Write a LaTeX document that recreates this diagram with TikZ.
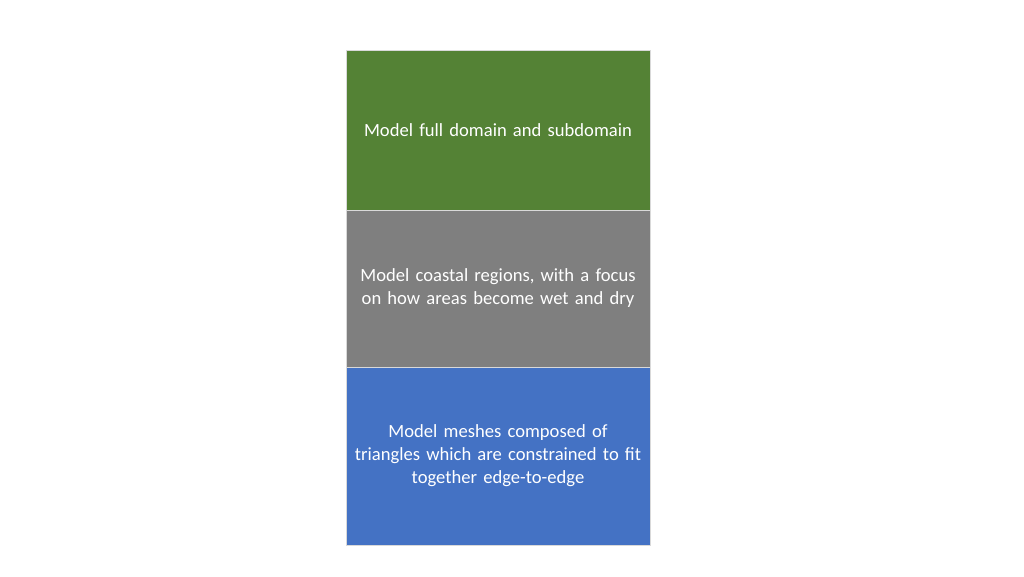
\documentclass[tikz,border=0pt]{standalone}
\usepackage{fontspec}
\setmainfont{Carlito}
\newcommand\boxfont{\fontsize{18.6}{23}\selectfont\spaceskip=0.2em\relax}
\begin{document}
\begin{tikzpicture}[x=1pt,y=-1pt,
  stackbox/.style={rectangle, draw=white!85!black, line width=0.6pt, minimum width=304pt, text width=300pt, align=center, text=white, inner sep=0pt, font=\boxfont}]
\useasboundingbox (0,0) rectangle (1024,576);
\node[stackbox, fill={rgb,255:red,84;green,130;blue,53}, minimum height=160pt] (a) at (498,130) {Model full domain and subdomain};
\node[stackbox, fill={rgb,255:red,127;green,127;blue,127}, minimum height=157pt] (b) at (498,288.5) {Model coastal regions, with a focus\\on how areas become wet and dry};
\node[stackbox, fill={rgb,255:red,68;green,114;blue,196}, minimum height=178pt] (c) at (498,456) {Model meshes composed of\\triangles which are constrained to fit\\together edge-to-edge};
\end{tikzpicture}
\end{document}
